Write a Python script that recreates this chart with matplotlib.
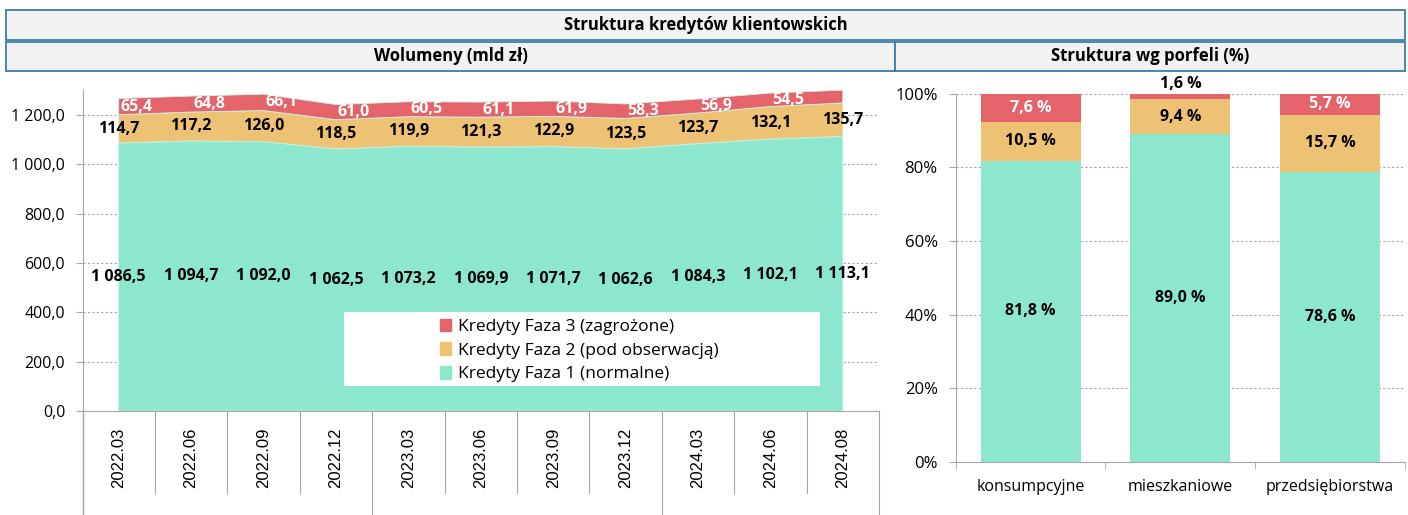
import numpy as np
import matplotlib.pyplot as plt
from matplotlib.patches import Rectangle, Patch
from matplotlib.ticker import FuncFormatter

# --- data (mld zł) ---
okresy = ['2022.03', '2022.06', '2022.09', '2022.12', '2023.03', '2023.06',
          '2023.09', '2023.12', '2024.03', '2024.06', '2024.08']
faza1 = [1086.5, 1094.7, 1092.0, 1062.5, 1073.2, 1069.9, 1071.7, 1062.6, 1084.3, 1102.1, 1113.1]
faza2 = [114.7, 117.2, 126.0, 118.5, 119.9, 121.3, 122.9, 123.5, 123.7, 132.1, 135.7]
faza3 = [65.4, 64.8, 66.1, 61.0, 60.5, 61.1, 61.9, 58.3, 56.9, 54.5, 52.0]
faza3_label = [True] * 10 + [False]  # last point has no label in source
year_groups = [4, 4, 3]  # 2022, 2023, 2024 on the multi-level axis

# --- structure by portfolio (%) ---
portfele = ['konsumpcyjne', 'mieszkaniowe', 'przedsiębiorstwa']
s_faza1 = [81.8, 89.0, 78.6]
s_faza2 = [10.5, 9.4, 15.7]
s_faza3 = [7.6, 1.6, 5.7]

legend_labels = ['Kredyty Faza 3 (zagrożone)', 'Kredyty Faza 2 (pod obserwacją)',
                 'Kredyty Faza 1 (normalne)']

GREEN = '#8ce7ce'
ORANGE = '#edc274'
RED = '#e5636a'
BORDER = '#3a7fa6'
AXC = '#a6a6a6'
GRIDC = '#a6a6a6'
FONT = 'Open Sans'

W, H = 1408, 515


def pl(v, d=1):
    s = f'{v:,.{d}f}'
    return s.replace(',', ' ').replace('.', ',')


fig = plt.figure(figsize=(W / 100, H / 100), dpi=100)


def header_box(x0, y0, x1, y1, text):
    fig.patches.append(Rectangle((x0 / W, 1 - y1 / H), (x1 - x0) / W, (y1 - y0) / H,
                                 transform=fig.transFigure, fc='#f2f2f2', ec=BORDER, lw=1.3))
    fig.text((x0 + x1) / 2 / W, 1 - (y0 + y1) / 2 / H, text, ha='center', va='center',
             fontsize=12, fontweight='bold', family=FONT)


header_box(6, 10, 1405, 39.5, 'Struktura kredytów klientowskich')
header_box(6, 41.5, 895, 70.5, 'Wolumeny (mld zł)')
header_box(895, 41.5, 1405, 70.5, 'Struktura wg porfeli (%)')

# --- left: stacked area ---
ax = fig.add_axes([82.5 / W, (H - 411) / H, (879 - 82.5) / W, (411 - 90.3) / H])
x = np.arange(len(okresy))
ax.stackplot(x, faza1, faza2, faza3, colors=[GREEN, ORANGE, RED], lw=0.6,
             edgecolor=['#c9f4e8', '#f4dcaa', RED], zorder=2)
ax.set_xlim(-0.5, len(okresy) - 0.5)
ax.set_ylim(0, 1300)
ax.set_yticks(np.arange(0, 1201, 200))
ax.yaxis.set_major_formatter(FuncFormatter(lambda v, p: pl(v)))
ax.grid(axis='y', color=GRIDC, ls=(0, (2, 2)), lw=0.8, zorder=1)
for s in ['top', 'right']:
    ax.spines[s].set_visible(False)
for s in ['left', 'bottom']:
    ax.spines[s].set_color(AXC)
ax.tick_params(axis='y', length=5, color=AXC, pad=7.5, labelsize=11.5)
for t in ax.get_yticklabels():
    t.set_family(FONT)
ax.set_xticks(x)
ax.set_xticklabels(okresy, rotation=90, family='Liberation Sans', fontsize=12)
ax.tick_params(axis='x', length=0, pad=12)

# category boundaries below the axis
tr = ax.get_xaxis_transform()
long_idx = set(np.cumsum([0] + year_groups))
for i in range(len(okresy) + 1):
    yb = -0.3243 if i in long_idx else -0.2557
    ax.plot([i - 0.5, i - 0.5], [0, yb], color=AXC, lw=0.8, transform=tr, clip_on=False)
ax.plot([-0.5, -0.5], [0, -0.3243], color=AXC, lw=1.0, transform=tr, clip_on=False)

for i in x:
    ax.text(i, faza1[i] / 2, pl(faza1[i]), ha='center', va='center', fontsize=11.5,
            fontweight='bold', family=FONT, zorder=3)
    ax.text(i, faza1[i] + faza2[i] / 2, pl(faza2[i]), ha='center', va='center', fontsize=11.5,
            fontweight='bold', family=FONT, zorder=3)
    if faza3_label[i]:
        ax.annotate(pl(faza3[i]), (i, faza1[i] + faza2[i] + faza3[i] / 2),
                    xytext=(13, 0), textcoords='offset points', ha='center', va='center',
                    fontsize=11.5, fontweight='bold', color='white', family=FONT, zorder=3)

ax.add_patch(Rectangle((0.328, 0.078), 0.598, 0.231, transform=ax.transAxes, fc='white',
                       ec='none', zorder=4))
handles = [Patch(color=RED), Patch(color=ORANGE), Patch(color=GREEN)]
leg = ax.legend(handles, legend_labels, loc='upper left', bbox_to_anchor=(0.449, 0.288),
                frameon=False, handlelength=0.6, handleheight=0.75, handletextpad=0.45,
                labelspacing=0.42, borderpad=0, borderaxespad=0,
                prop={'family': FONT, 'size': 12.5})
leg.set_zorder(5)

# --- right: 100% stacked bars ---
ax2 = fig.add_axes([955.7 / W, (H - 462) / H, (1405 - 955.7) / W, (462 - 93.5) / H])
xb = np.arange(len(portfele))
f1 = np.array(s_faza1) / 100
f2 = np.array(s_faza2) / 100
f3 = np.array(s_faza3) / 100
bw = 0.667
ax2.bar(xb, f1, bw, color=GREEN, zorder=2)
ax2.bar(xb, f2, bw, bottom=f1, color=ORANGE, zorder=2)
ax2.bar(xb, f3, bw, bottom=f1 + f2, color=RED, zorder=2)
ax2.set_xlim(-0.5, len(portfele) - 0.5)
ax2.set_ylim(0, 1)
ax2.set_yticks(np.arange(0, 1.01, 0.2))
ax2.yaxis.set_major_formatter(FuncFormatter(lambda v, p: f'{v * 100:.0f}%'))
ax2.grid(axis='y', color=GRIDC, ls=(0, (2, 2)), lw=0.8, zorder=1)
for s in ['top', 'right']:
    ax2.spines[s].set_visible(False)
for s in ['left', 'bottom']:
    ax2.spines[s].set_color(AXC)
ax2.tick_params(axis='y', length=5, color=AXC, pad=8, labelsize=12)
for t in ax2.get_yticklabels():
    t.set_family(FONT)
ax2.set_xticks(xb)
ax2.set_xticklabels(portfele, family=FONT, fontsize=11.5)
ax2.tick_params(axis='x', which='major', length=0, pad=12)
ax2.set_xticks(np.arange(-0.5, len(portfele)), minor=True)
ax2.tick_params(axis='x', which='minor', length=5, color=AXC)

for i in xb:
    ax2.text(i, f1[i] / 2, f'{pl(s_faza1[i])} %', ha='center', va='center', fontsize=11.5,
             fontweight='bold', family=FONT, zorder=3)
    ax2.text(i, f1[i] + f2[i] / 2, f'{pl(s_faza2[i])} %', ha='center', va='center',
             fontsize=11.5, fontweight='bold', family=FONT, zorder=3)
    top = f1[i] + f2[i] + f3[i]
    if f3[i] < 0.03:
        ax2.text(i, top + 0.003, f'{pl(s_faza3[i])} %', ha='center', va='bottom',
                 fontsize=11.5, fontweight='bold', family=FONT, zorder=3, clip_on=False)
    else:
        ax2.text(i, top - f3[i] / 2, f'{pl(s_faza3[i])} %', ha='center', va='center',
                 fontsize=11.5, fontweight='bold', color='white', family=FONT, zorder=3)

fig.savefig('out.png', dpi=100)
